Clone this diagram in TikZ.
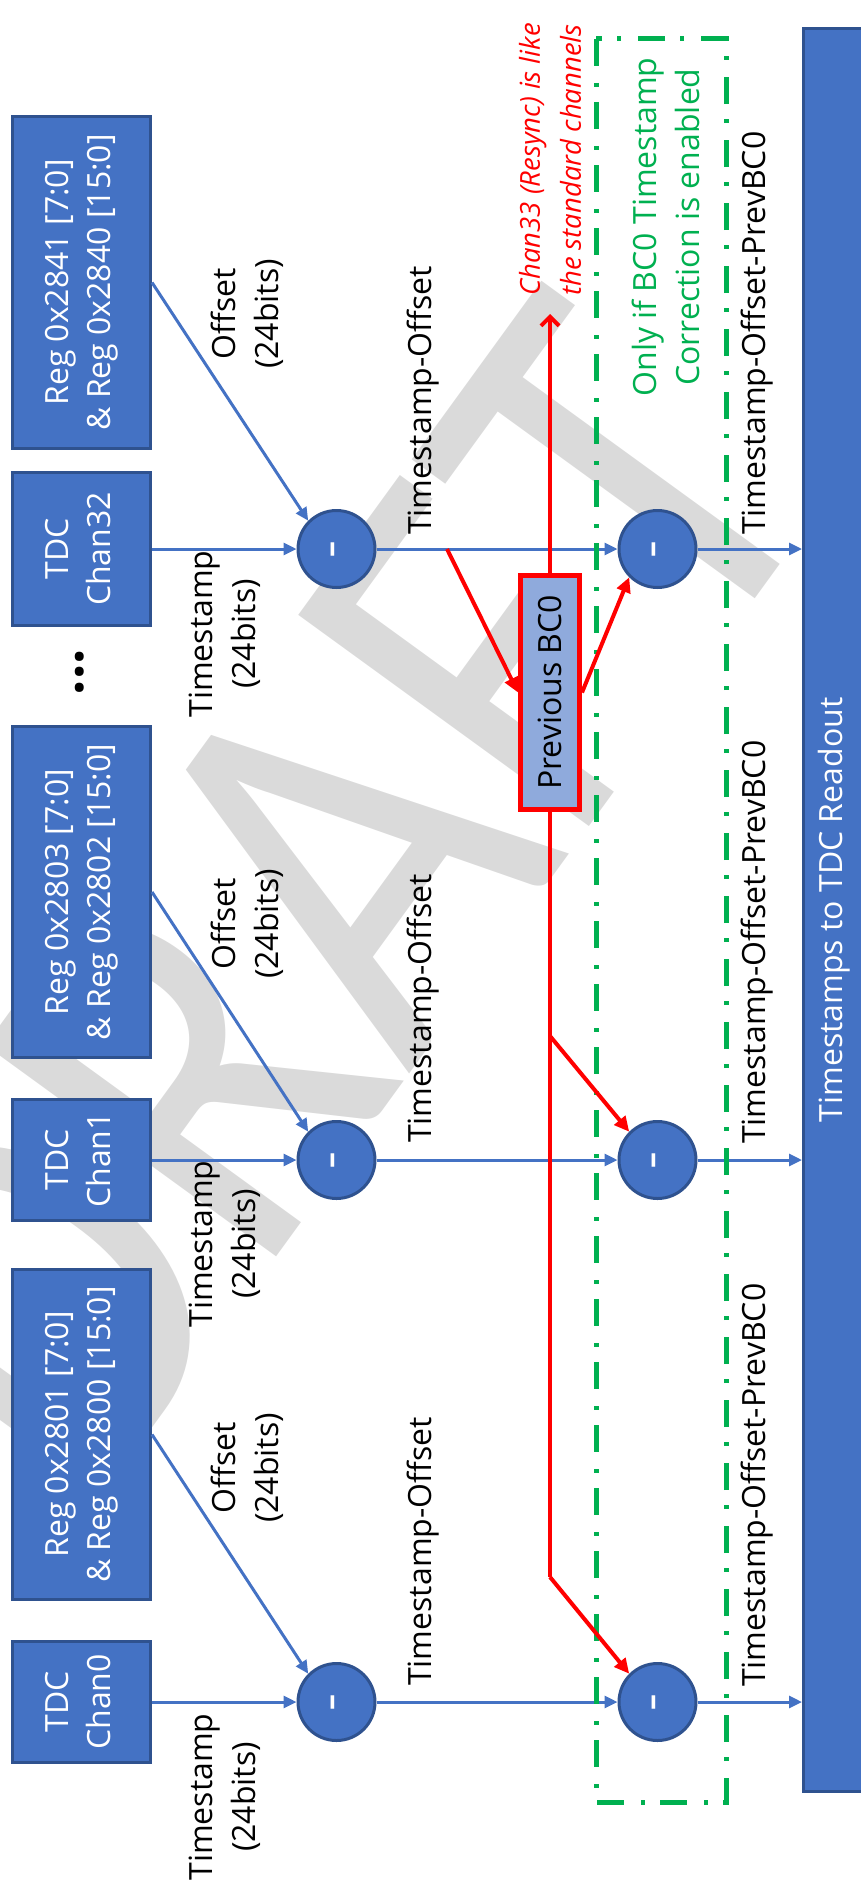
\documentclass[tikz,border=0pt]{standalone}
\usepackage{graphicx}
\usepackage{fontspec}
\setmainfont{Open Sans}
\newfontfamily\wmfont{Carlito}
\usetikzlibrary{arrows.meta}
\definecolor{myblue}{HTML}{4472C4}
\definecolor{myborder}{HTML}{2F528F}
\definecolor{mygreen}{HTML}{00B050}
\definecolor{pbcfill}{HTML}{8FAADC}
\definecolor{wmgray}{HTML}{DADADA}
\newcommand\rottext[1]{\rotatebox{90}{\begin{tabular}{@{}c@{}}#1\end{tabular}}}
\begin{document}
\begin{tikzpicture}[x=1pt,y=-1pt,font=\fontsize{32}{43}\selectfont,
  blk/.style={rectangle, fill=myblue, draw=myborder, line width=3pt, text=white, inner sep=0pt, font=\fontsize{32}{42}\selectfont},
  sub/.style={circle, fill=myblue, draw=myborder, line width=3pt, text=white, minimum size=77pt, inner sep=0pt},
  lbl/.style={rotate=90, inner sep=0pt},
  barr/.style={draw=myblue, line width=3pt, -{Triangle[length=13pt,width=12pt]}},
  rline/.style={draw=red, line width=4pt},
  rarr/.style={rline, -{Triangle[length=15pt,width=14pt]}},
  gbox/.style={draw=mygreen, line width=5pt, dash pattern=on 27pt off 17pt on 4pt off 15pt}
]
\useasboundingbox (0,0) rectangle (860,1892);
% watermark
\node[rotate=54, inner sep=0pt, text=wmgray, font=\wmfont\fontsize{560}{560}\selectfont] (draft) at (315,899) {\scalebox{0.85}[1]{DRAFT}};

% input boxes
\node[blk, minimum width=138pt, minimum height=332pt] (reg32) at (81.5,282.5) {\rottext{Reg 0x2841 [7:0]\\\& Reg 0x2840 [15:0]}};
\node[blk, minimum width=138pt, minimum height=153pt] (ch32) at (81.5,549) {\rottext{TDC\\Chan32}};
\node[blk, minimum width=138pt, minimum height=331pt] (reg1) at (81.5,892) {\rottext{Reg 0x2803 [7:0]\\\& Reg 0x2802 [15:0]}};
\node[blk, minimum width=138pt, minimum height=121pt] (ch1) at (81.5,1160) {\rottext{TDC\\Chan1}};
\node[blk, minimum width=138pt, minimum height=330pt] (reg0) at (81.5,1434.5) {\rottext{Reg 0x2801 [7:0]\\\& Reg 0x2800 [15:0]}};
\node[blk, minimum width=138pt, minimum height=121pt] (ch0) at (81.5,1702) {\rottext{TDC\\Chan0}};
\node[lbl, font=\fontsize{54}{54}\selectfont\bfseries] (dots) at (80,672) {...};

% readout
\node[blk, minimum width=61pt, minimum height=1763pt] (ro) at (834,910) {\rotatebox{90}{Timestamps to TDC Readout}};

% subtractors
\node[sub] (a32) at (336.5,549) {\rotatebox{90}{\textbf{--}}};
\node[sub] (b32) at (657.5,549) {\rotatebox{90}{\textbf{--}}};
\node[sub] (a1) at (336.5,1160) {\rotatebox{90}{\textbf{--}}};
\node[sub] (b1) at (657.5,1160) {\rotatebox{90}{\textbf{--}}};
\node[sub] (a0) at (336.5,1702) {\rotatebox{90}{\textbf{--}}};
\node[sub] (b0) at (657.5,1702) {\rotatebox{90}{\textbf{--}}};

% blue connectors
\foreach \r/\c in {32/32,1/1,0/0}{
  \draw[barr] (ch\c.east) -- (a\r.west);
  \draw[barr] (reg\c.east) -- (a\r.north west);
  \draw[barr] (a\r.east) -- (b\r.west);
  \draw[barr] (b\r.east) -- (b\r.east -| ro.west);
}

% green enable box
\draw[gbox] (596,39) rectangle (726,1802);

% previous BC0
\node[draw=red, fill=pbcfill, line width=5pt, minimum width=59pt, minimum height=234pt, inner sep=0pt] (pbc) at (550,692.5) {\rotatebox{90}{Previous BC0}};
\coordinate (tap) at (447,549);
\coordinate (chan33) at (550,314);
\coordinate (br1) at (550,1036);
\coordinate (br0) at (550,1577);
\draw[rarr] (tap) -- (pbc.west);
\draw[rarr] (pbc.east) -- (b32.south west);
\draw[rline, -{Straight Barb[length=9pt,width=18pt]}] (pbc.north) -- (chan33);
\draw[rline] (pbc.south) -- (br0);
\draw[rarr] (br0) -- (b0.north west);
\draw[rarr] (br1) -- (b1.north west);

% labels
\node[lbl, align=center] (ts32) at (225,634) {Timestamp\\(24bits)};
\node[lbl, align=center] (ts1) at (225,1244) {Timestamp\\(24bits)};
\node[lbl, align=center] (ts0) at (225,1797) {Timestamp\\(24bits)};
\node[lbl, align=center] (of32) at (247,314) {Offset\\(24bits)};
\node[lbl, align=center] (of1) at (247,924) {Offset\\(24bits)};
\node[lbl, align=center] (of0) at (247,1468) {Offset\\(24bits)};
\node[lbl, anchor=base west] (to32) at (431,535) {Timestamp-Offset};
\node[lbl, anchor=base west] (to1) at (431,1143) {Timestamp-Offset};
\node[lbl, anchor=base west] (to0) at (431,1686) {Timestamp-Offset};
\node[lbl, anchor=base west] (pb32) at (765,535) {Timestamp-Offset-PrevBC0};
\node[lbl, anchor=base west] (pb1) at (765,1144) {Timestamp-Offset-PrevBC0};
\node[lbl, anchor=base west] (pb0) at (765,1687) {Timestamp-Offset-PrevBC0};
\node[lbl, align=left, anchor=west, text=red, font=\fontsize{27.5}{41}\selectfont\itshape] (c33) at (550,296) {Chan33 (Resync) is like\\the standard channels};
\node[lbl, align=center, text=mygreen] (note) at (666,227) {Only if BC0 Timestamp\\Correction is enabled};
\end{tikzpicture}
\end{document}
